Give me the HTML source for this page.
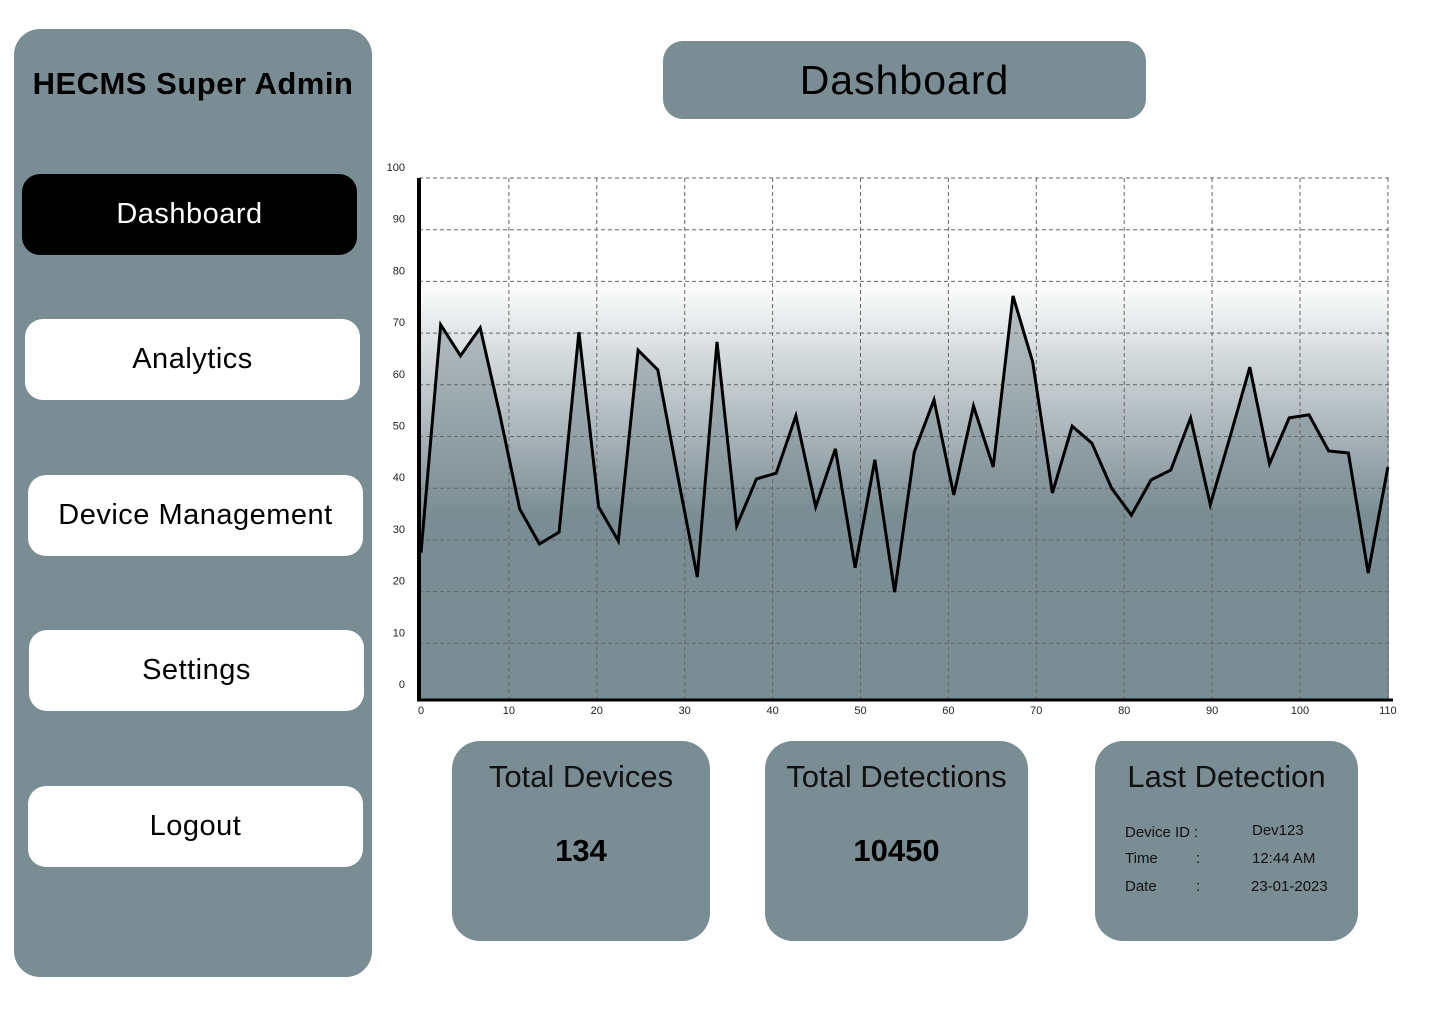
<!DOCTYPE html>
<html><head><meta charset="utf-8"><style>
body{margin:0;width:1440px;height:1024px;background:#fff;font-family:"Liberation Sans",sans-serif;position:relative;overflow:hidden}
.abs{position:absolute}
.side{left:14px;top:29px;width:358px;height:948px;background:#7b8d94;border-radius:26px}
.btn{position:absolute;background:#fff;border-radius:18px;display:flex;align-items:center;justify-content:center;font-size:29px;color:#000;letter-spacing:0.5px}
.card{position:absolute;background:#7b8d94;border-radius:28px;top:741px;height:200px}
.ct{position:absolute;top:18px;width:100%;text-align:center;font-size:31px;color:#111}
.cv{position:absolute;top:92px;width:100%;text-align:center;font-size:31px;font-weight:bold;color:#000}
.ld{position:absolute;font-size:15px;color:#111}
</style></head><body>
<div class="abs side"></div>
<div class="abs" style="left:14px;width:358px;top:66px;text-align:center;font-size:31px;font-weight:bold;letter-spacing:0.5px">HECMS Super Admin</div>
<div class="btn" style="left:22px;top:174px;width:335px;height:81px;background:#000;color:#fff">Dashboard</div>
<div class="btn" style="left:25px;top:319px;width:335px;height:81px">Analytics</div>
<div class="btn" style="left:28px;top:475px;width:335px;height:81px">Device Management</div>
<div class="btn" style="left:29px;top:630px;width:335px;height:81px">Settings</div>
<div class="btn" style="left:28px;top:786px;width:335px;height:81px">Logout</div>
<div class="abs" style="left:663px;top:41px;width:483px;height:78px;background:#7b8d94;border-radius:20px;display:flex;align-items:center;justify-content:center;font-size:41px;letter-spacing:1px">Dashboard</div>

<svg class="abs" style="left:0;top:0" width="1440" height="740">
<defs><linearGradient id="bg" gradientUnits="userSpaceOnUse" x1="0" y1="280" x2="0" y2="515"><stop offset="0" stop-color="#fff"/><stop offset="1" stop-color="#7b8d94"/></linearGradient></defs>
<g id="chart"></g>
</svg>

<div class="card" style="left:452px;width:258px"><div class="ct">Total Devices</div><div class="cv">134</div></div>
<div class="card" style="left:765px;width:263px"><div class="ct">Total Detections</div><div class="cv">10450</div></div>
<div class="card" style="left:1095px;width:263px"><div class="ct">Last Detection</div>
<div class="ld" style="left:30px;top:83px">Device ID :</div><div class="ld" style="left:157px;top:81px">Dev123</div>
<div class="ld" style="left:30px;top:109px">Time</div><div class="ld" style="left:101px;top:109px">:</div><div class="ld" style="left:157px;top:109px">12:44 AM</div>
<div class="ld" style="left:30px;top:137px">Date</div><div class="ld" style="left:101px;top:137px">:</div><div class="ld" style="left:156px;top:137px">23-01-2023</div>
</div>
<script>
const values=[27.5,71.6,65.6,71,54.2,36,29.2,31.5,70.2,36.4,29.8,66.7,62.9,42.6,22.8,68.3,32.7,41.8,42.9,54,36.4,47.6,24.6,45.5,19.9,47,57.1,38.7,55.9,44.1,77.2,64.4,39.1,52,48.7,40,34.8,41.6,43.5,53.6,36.8,49.9,63.4,44.7,53.6,54.2,47.2,46.8,23.6,44.1];
const xTicks=[0,10,20,30,40,50,60,70,80,90,100,110];
const yTicks=[0,10,20,30,40,50,60,70,80,90,100];
const NS="http://www.w3.org/2000/svg";
const X=v=>421+v*8.79, Y=v=>695-v*5.17;
const g=document.getElementById('chart');
function mk(t,a){const e=document.createElementNS(NS,t);for(const k in a)e.setAttribute(k,a[k]);g.appendChild(e);return e;}
let r=mk('rect',{x:419,y:178,width:970,height:522,fill:'url(#bg)'});


const pts=values.map((v,i)=>[X(i*110/(values.length-1)),Y(v)]);
const ps=pts.map(p=>p[0].toFixed(1)+','+p[1].toFixed(1)).join(' ');
let a=mk('polygon',{points:ps+' '+pts[pts.length-1][0]+',700 '+pts[0][0]+',700',fill:'#7b8d94','fill-opacity':0.5});


yTicks.forEach(v=>{if(v>0){let l=mk('line',{x1:419,x2:1389,y1:Y(v),y2:Y(v),stroke:'#666','stroke-dasharray':'4,3','stroke-width':1});

}
let t=mk('text',{x:405,y:Y(v)-7,'text-anchor':'end','font-size':11,fill:'#222'});t.textContent=v;

});
xTicks.forEach(v=>{if(v>0){let l=mk('line',{x1:X(v),x2:X(v),y1:178,y2:700,stroke:'#666','stroke-dasharray':'4,3','stroke-width':1});

}
let t=mk('text',{x:X(v),y:714,'text-anchor':'middle','font-size':11,fill:'#222'});t.textContent=v;

});
let ln=mk('polyline',{points:ps,fill:'none',stroke:'#000','stroke-width':3,'stroke-linejoin':'miter'});


let ya=mk('line',{x1:419,x2:419,y1:178,y2:701,stroke:'#000','stroke-width':4});


let xa=mk('line',{x1:417,x2:1393,y1:700,y2:700,stroke:'#000','stroke-width':3});


</script>
</body></html>
